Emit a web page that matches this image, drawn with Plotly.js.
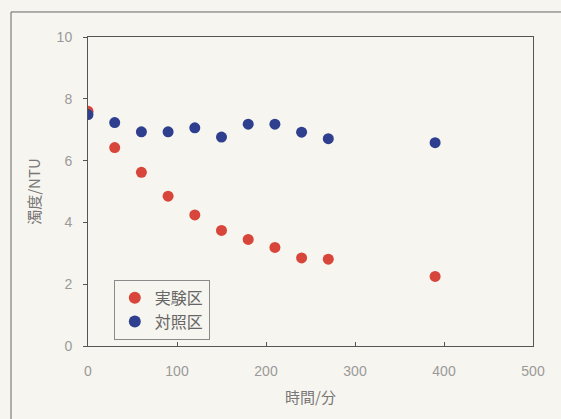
<!DOCTYPE html>
<html>
<head>
<meta charset="utf-8">
<script src="https://cdn.plot.ly/plotly-3.0.1.min.js"></script>
<style>html,body{margin:0;padding:0;background:#f7f5ef;}#chart{width:561px;height:419px;}</style>
</head>
<body>
<div id="chart"></div>
<script>
const timeMin = [0, 30, 60, 90, 120, 150, 180, 210, 240, 270, 390];
const experimental = [7.6, 6.42, 5.62, 4.85, 4.24, 3.74, 3.45, 3.19, 2.85, 2.81, 2.25];
const control = [7.49, 7.23, 6.93, 6.93, 7.06, 6.76, 7.18, 7.18, 6.92, 6.71, 6.58];
const seriesNames = ['実験区', '対照区'];
const xTicks = [0, 100, 200, 300, 400, 500];
const yTicks = [0, 2, 4, 6, 8, 10];

const jp = '"Noto Sans CJK JP", "Liberation Sans", sans-serif';
const num = '"Liberation Sans", Arial, sans-serif';
const bg = '#f7f5ef';

const traces = [
  {x: timeMin, y: experimental, name: seriesNames[0], mode: 'markers', type: 'scatter',
   marker: {color: '#d8453a', size: 11, line: {width: 0}}},
  {x: timeMin, y: control, name: seriesNames[1], mode: 'markers', type: 'scatter',
   marker: {color: '#2d3f8e', size: 11, line: {width: 0}}}
];

const layout = {
  width: 561, height: 419,
  margin: {l: 88, r: 28, t: 37, b: 73},
  paper_bgcolor: bg, plot_bgcolor: bg,
  showlegend: true,
  legend: {x: 0.058, y: 0.214, xanchor: 'left', yanchor: 'top',
    bgcolor: bg, bordercolor: '#8a8a8a', borderwidth: 1, itemwidth: 30,
    font: {family: jp, size: 16, color: '#666'}, tracegroupgap: 0, itemsizing: 'constant'},
  xaxis: {range: [0, 500], tickvals: xTicks, ticktext: xTicks.map(String),
    showgrid: false, zeroline: false, showline: true, linecolor: '#555', linewidth: 1, mirror: true,
    ticks: 'inside', ticklen: 4, tickcolor: '#555',
    tickfont: {family: num, size: 14, color: '#9a9a9a'}, ticklabelstandoff: 12,
    title: {text: '時間/分', font: {family: jp, size: 15, color: '#777'}, standoff: 14}},
  yaxis: {range: [0, 10], tickvals: yTicks, ticktext: yTicks.map(String),
    showgrid: false, zeroline: false, showline: true, linecolor: '#555', linewidth: 1, mirror: true,
    ticks: 'outside', ticklen: 4, tickcolor: '#555',
    tickfont: {family: num, size: 14, color: '#9a9a9a'}, ticklabelstandoff: 8,
    title: {text: '濁度/NTU', font: {family: jp, size: 15, color: '#777'}, standoff: 12}},
  shapes: [
    {type: 'rect', xref: 'paper', yref: 'paper', x0: -0.173, x1: 1.3, y0: -0.4, y1: 1.081,
     line: {color: '#666', width: 1}, fillcolor: 'rgba(0,0,0,0)', layer: 'below'}
  ]
};

Plotly.newPlot('chart', traces, layout, {displayModeBar: false, staticPlot: true});
</script>
</body>
</html>
